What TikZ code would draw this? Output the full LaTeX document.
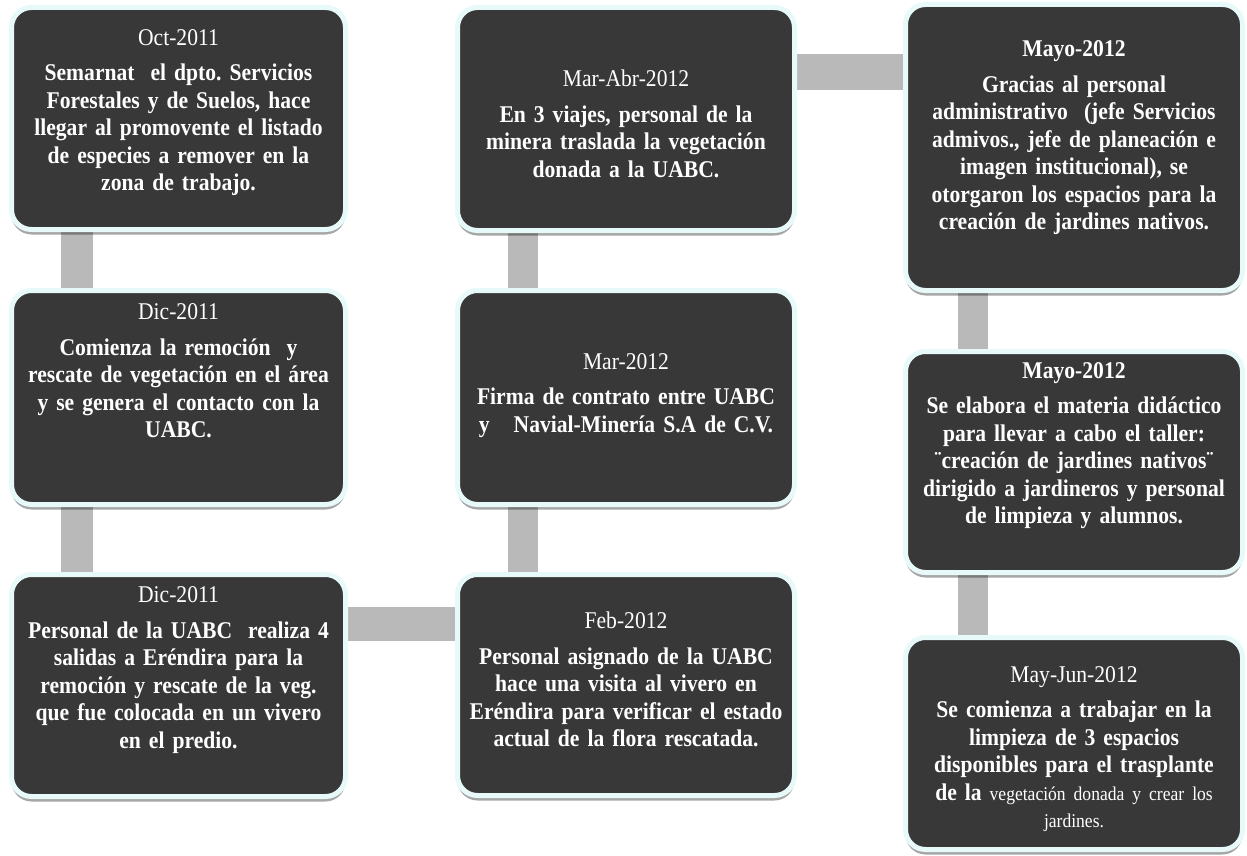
\documentclass[tikz,border=0pt]{standalone}
\usepackage{fontspec}
\setmainfont{Liberation Serif}[FakeStretch=0.9]
\usetikzlibrary{shadows,backgrounds}
\definecolor{boxfill}{RGB}{56,56,56}
\definecolor{boxedge}{RGB}{232,249,249}
\definecolor{connc}{RGB}{185,185,185}
\newcommand{\evtextfont}{\fontsize{24}{27.5}\selectfont\frenchspacing\spaceskip=0.2em plus 0.05em\relax}
\tikzset{
  evbox/.style={draw=boxedge, line width=5pt, fill=boxfill, rounded corners=20pt,
    drop shadow={shadow xshift=0pt, shadow yshift=-5pt, fill=black, opacity=0.35},
    inner sep=0pt},
  colA/.style={minimum width=334pt},
  colB/.style={minimum width=337pt},
  evtext/.style={text=white, align=center, text width=336pt, inner sep=0pt,
    font=\evtextfont},
  connbar/.style={fill=connc},
}
\begin{document}
\begin{tikzpicture}[x={(1pt,0)}, y={(0,-1pt)}]
\useasboundingbox (0,0) rectangle (1247,856);
% boxes
\node[evbox, colA, minimum height=222pt] (A) at (178.5,118.5) {};
\node[evbox, colA, minimum height=214pt] (B) at (178.5,397.5) {};
\node[evbox, colA, minimum height=222pt] (C) at (178.5,685.5) {};
\node[evbox, colB, minimum height=223pt] (MA) at (626,119) {};
\node[evbox, colB, minimum height=214pt] (M) at (626,397.5) {};
\node[evbox, colB, minimum height=221pt] (F) at (626,685) {};
\node[evbox, colB, minimum height=286pt] (Y1) at (1074,147.5) {};
\node[evbox, colB, minimum height=221pt] (Y2) at (1074,462) {};
\node[evbox, colB, minimum height=212pt] (J) at (1074,743.5) {};
% connectors
\begin{pgfonlayer}{background}
\fill[connbar] ([xshift=51.5pt]A.south west) rectangle ([xshift=83.5pt]B.north west);
\fill[connbar] ([xshift=51.5pt]B.south west) rectangle ([xshift=83.5pt]C.north west);
\fill[connbar] ([yshift=-34.5pt]C.north east) rectangle ([yshift=-68.5pt]F.north west);
\fill[connbar] ([xshift=52.5pt]F.north west) rectangle ([xshift=82.5pt]M.south west);
\fill[connbar] ([xshift=52.5pt]M.north west) rectangle ([xshift=82.5pt]MA.south west);
\fill[connbar] ([yshift=-49.5pt]MA.north east) rectangle ([yshift=-88.5pt]Y1.north west);
\fill[connbar] ([xshift=54.5pt]Y1.south west) rectangle ([xshift=84.5pt]Y2.north west);
\fill[connbar] ([xshift=54.5pt]Y2.south west) rectangle ([xshift=84.5pt]J.north west);
\end{pgfonlayer}
% texts
\node[evtext] (tA) at (178.5,112.5) {Oct-2011\\[8pt]\bfseries Semarnat\ \ el dpto. Servicios\\Forestales y de Suelos, hace\\llegar al promovente el listado\\de especies a remover en la\\zona de trabajo.};
\node[evtext] (tB) at (178.5,371) {Dic-2011\\[8pt]\bfseries Comienza la remoción\ \ y\\rescate de vegetación en el área\\y se genera el contacto con la\\UABC.};
\node[evtext] (tC) at (178.5,670) {Dic-2011\\[8pt]\bfseries Personal de la UABC\ \ realiza 4\\salidas a Eréndira para la\\remoción y rescate de la veg.\\que fue colocada en un vivero\\en el predio.};
\node[evtext] (tMA) at (626,124) {Mar-Abr-2012\\[8pt]\bfseries En 3 viajes, personal de la\\minera traslada la vegetación\\donada a la UABC.};
\node[evtext] (tM) at (626,395.5) {Mar-2012\\[8pt]\bfseries Firma de contrato entre UABC\\y\ \ \ Navial-Minería S.A de C.V.};
\node[evtext] (tF) at (626,679.5) {Feb-2012\\[8pt]\bfseries Personal asignado de la UABC\\hace una visita al vivero en\\Eréndira para verificar el estado\\actual de la flora rescatada.};
\node[evtext] (tY1) at (1074,138) {\bfseries Mayo-2012\\[8pt]Gracias al personal\\administrativo\ \ (jefe Servicios\\admivos., jefe de planeación e\\imagen institucional), se\\otorgaron los espacios para la\\creación de jardines nativos.};
\node[evtext] (tY2) at (1074,445.5) {\bfseries Mayo-2012\\[8pt]Se elabora el materia didáctico\\para llevar a cabo el taller:\\¨creación de jardines nativos¨\\dirigido a jardineros y personal\\de limpieza y alumnos.};
\node[evtext] (tJ) at (1074,749) {May-Jun-2012\\[8pt]\bfseries Se comienza a trabajar en la\\limpieza de 3 espacios\\disponibles para el trasplante\\de la {\mdseries\fontsize{19.5}{27.5}\selectfont vegetación donada y crear los}\\{\mdseries\fontsize{19.5}{27.5}\selectfont jardines.}};
\end{tikzpicture}
\end{document}
